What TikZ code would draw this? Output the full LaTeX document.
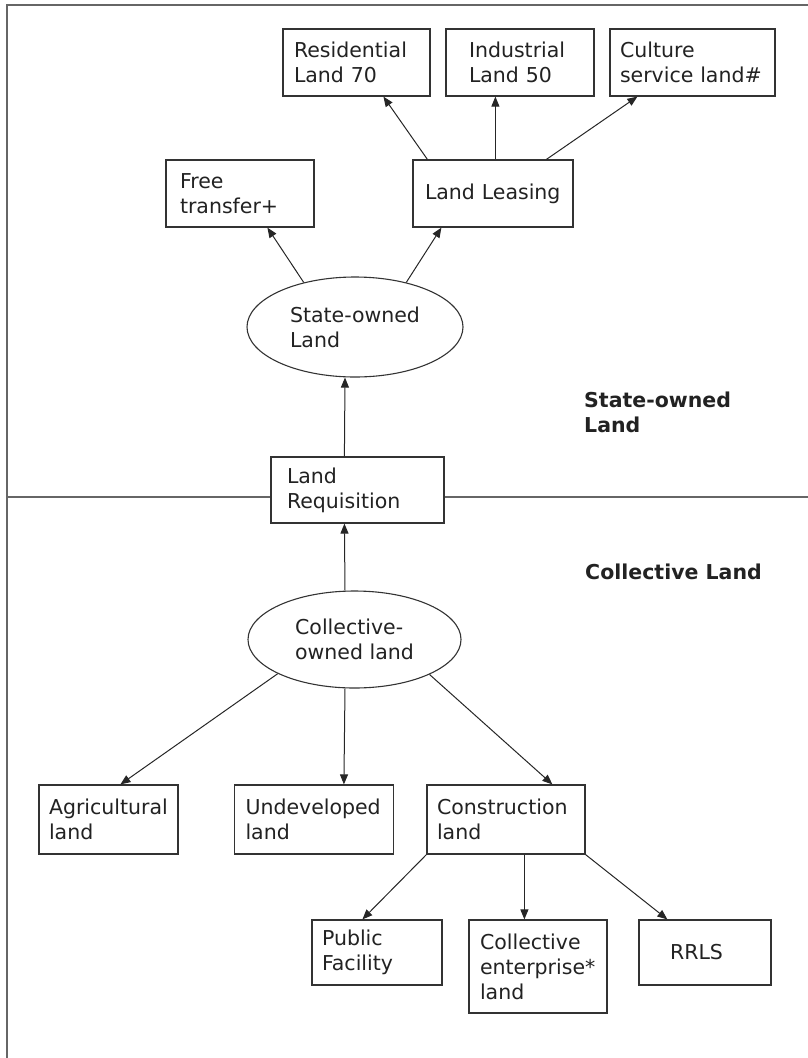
\documentclass[tikz,border=0pt]{standalone}
\usepackage{fontspec}
\setmainfont{DejaVu Sans}
\usetikzlibrary{shapes.geometric,arrows.meta}
\definecolor{boxline}{HTML}{333333}
\definecolor{frameline}{HTML}{666666}
\definecolor{txt}{HTML}{222222}
\tikzset{
  box/.style={draw=boxline, line width=1.2pt, rectangle, fill=white, align=left,
    inner ysep=0pt, text=txt, font=\fontsize{20.5}{25}\selectfont},
  oval/.style={draw=boxline, line width=1.1pt, ellipse, inner sep=0pt, align=left,
    text=txt, font=\fontsize{20.5}{25}\selectfont},
  conn/.style={draw=black!85, line width=1pt, -{Triangle[length=10pt,width=8pt]}},
  region/.style={font=\bfseries\fontsize{20.5}{25}\selectfont, text=txt, align=left,
    inner sep=0pt, anchor=west},
  frame/.style={draw=frameline, line width=1.6pt}
}
\begin{document}
\begin{tikzpicture}[x=1pt,y=-1pt]
\useasboundingbox (0,0) rectangle (808,1058);
% frame and separator
\draw[frame] (7,1058) -- (7,5) -- (808,5);
\draw[frame] (7,497) -- (808,497);

% top row
\node[box, minimum height=67pt, text width=125pt, inner xsep=11pt] (res) at (356.5,62.5) {Residential\\Land 70};
\node[box, minimum height=67pt, text width=102pt, inner xsep=23pt] (ind) at (520,62.5) {Industrial\\Land 50};
\node[box, minimum height=67pt, text width=145pt, inner xsep=10pt] (cul) at (692.5,62.5) {Culture\\\mbox{service land\#}};
% second row
\node[box, minimum height=67pt, text width=120pt, inner xsep=14pt] (free) at (240,193.5) {Free\\transfer+};
\node[box, minimum height=67pt, text width=136pt, inner xsep=12pt] (lease) at (493,193.5) {\mbox{Land Leasing}};
% state-owned ellipse
\node[oval, minimum width=216pt, minimum height=100pt] (state) at (355,327) {State-owned\\Land};
% requisition
\node[box, minimum height=66pt, text width=141pt, inner xsep=16pt] (req) at (357.5,490) {Land\\Requisition};
% collective ellipse
\node[oval, minimum width=213pt, minimum height=97pt] (coll) at (354.5,639.5) {Collective-\\\mbox{owned land}};
% third row
\node[box, minimum height=69pt, text width=119pt, inner xsep=10pt] (agr) at (108.5,819.5) {Agricultural\\land};
\node[box, minimum height=69pt, text width=137pt, inner xsep=11pt] (und) at (314,819.5) {Undeveloped\\land};
\node[box, minimum height=69pt, text width=138pt, inner xsep=10pt] (con) at (506,819.5) {Construction\\land};
% bottom row
\node[box, minimum height=65pt, text width=110pt, inner xsep=10pt] (pub) at (377,952.5) {Public\\Facility};
\node[box, minimum height=93pt, text width=116pt, inner xsep=11pt] (cen) at (538,966.5) {Collective\\\mbox{enterprise*}\\land};
\node[box, minimum height=65pt, text width=70pt, inner xsep=31pt] (rrls) at (705,952.5) {RRLS};

% region labels
\node[region] (lstate) at (584,412) {State-owned\\Land};
\node[region] (lcoll) at (585,572) {Collective Land};

% connectors
\draw[conn] ([xshift=15pt]lease.north west) -- ([xshift=101pt]res.south west);
\draw[conn] ([xshift=83pt]lease.north west) -- ([xshift=50pt]ind.south west);
\draw[conn] ([xshift=134pt]lease.north west) -- ([xshift=28pt]cul.south west);
\draw[conn] (state.139) -- ([xshift=102pt]free.south west);
\draw[conn] (state.41) -- ([xshift=29pt]lease.south west);
\draw[conn] ([xshift=74pt]req.north west) -- ([xshift=-10pt]state.south);
\draw[conn] ([xshift=-9.5pt]coll.north) -- ([xshift=74pt]req.south west);
\draw[conn] (coll.204) -- ([xshift=82pt]agr.north west);
\draw[conn] ([xshift=-9.5pt]coll.south) -- ([xshift=110pt]und.north west);
\draw[conn] (coll.335) -- ([xshift=126pt]con.north west);
\draw[conn] (con.south west) -- ([xshift=51pt]pub.north west);
\draw[conn] ([xshift=98pt]con.south west) -- ([xshift=56pt]cen.north west);
\draw[conn] (con.south east) -- ([xshift=29pt]rrls.north west);
\end{tikzpicture}
\end{document}
